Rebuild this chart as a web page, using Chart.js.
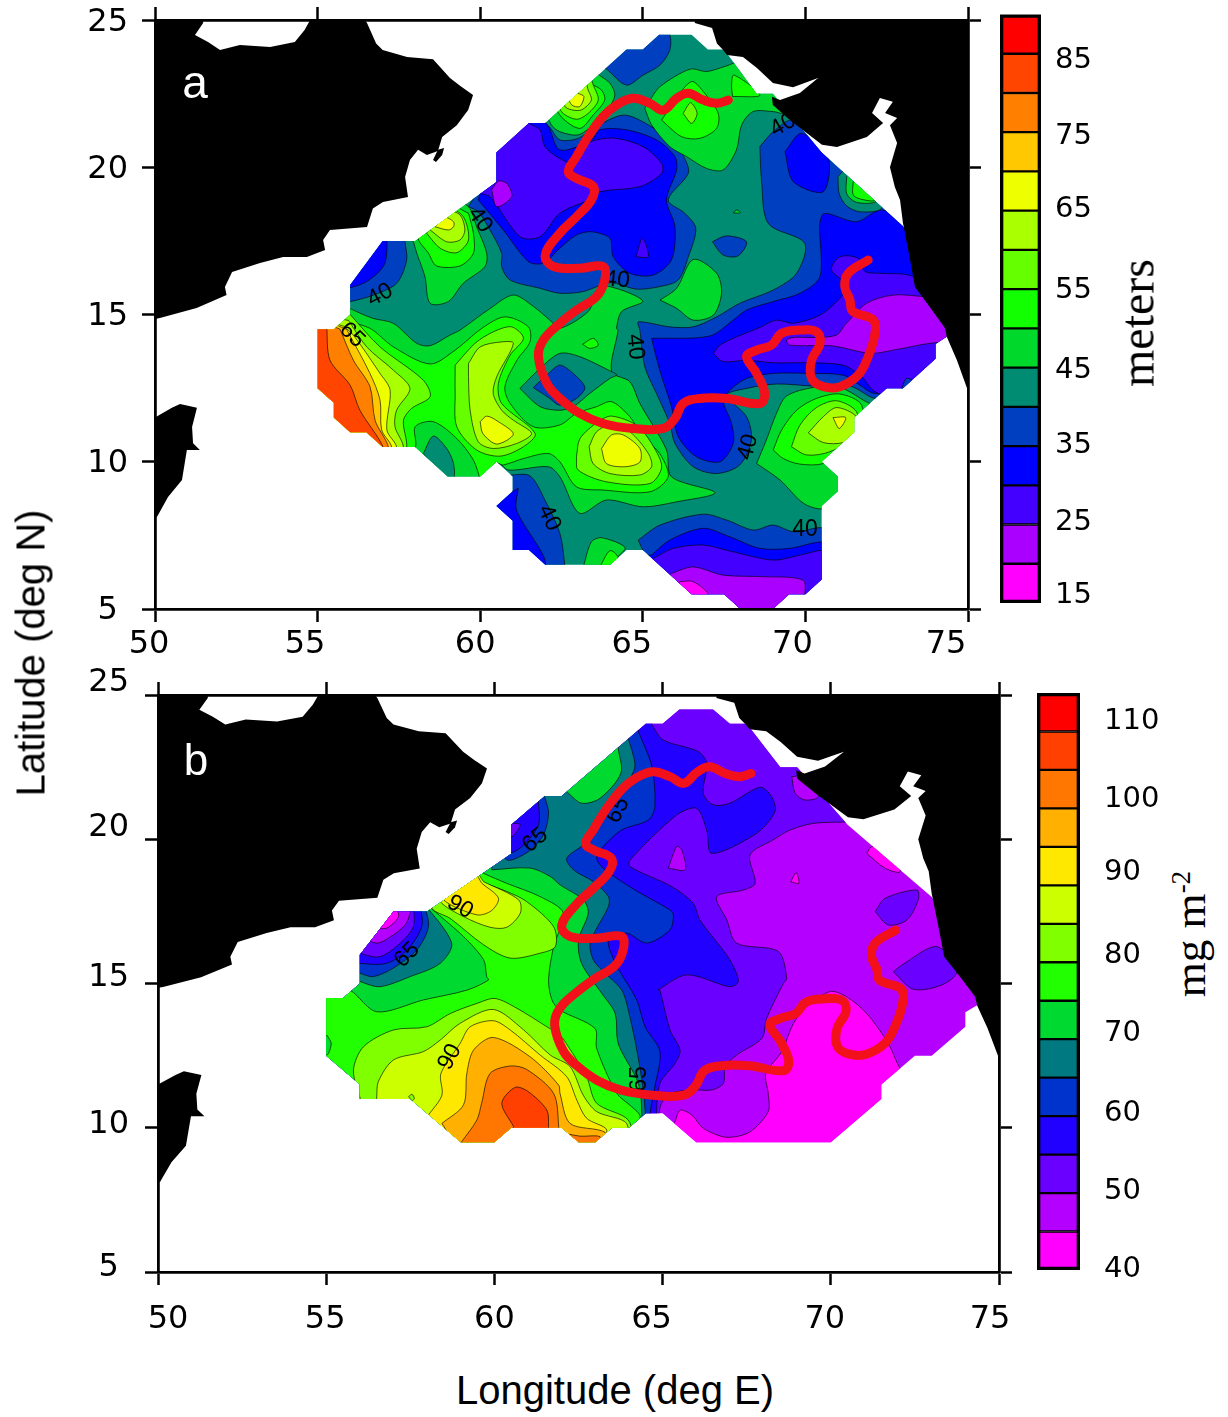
<!DOCTYPE html>
<html><head><meta charset="utf-8">
<script src="https://cdn.jsdelivr.net/npm/chart.js@4"></script>
<style>
html,body{margin:0;padding:0;background:#fff;width:1228px;height:1417px;overflow:hidden}
canvas{position:absolute}
.t{position:absolute;white-space:nowrap;color:#000;line-height:1}
.r{transform:translate(-50%,-50%) rotate(-90deg)}
.c{transform:translate(-50%,-50%)}
sup{font-size:60%;vertical-align:baseline;position:relative;top:-.55em}
</style></head><body>
<canvas id="mapA"></canvas><canvas id="mapB"></canvas><canvas id="barA"></canvas><canvas id="barB"></canvas>
<div class="t c" style="left:195px;top:82px;color:#fff;font:46px 'Liberation Sans'">a</div>
<div class="t c" style="left:196px;top:760px;color:#fff;font:44px 'Liberation Sans'">b</div>
<div class="t r" style="left:31px;top:653px;font:40px 'Liberation Sans'">Latitude (deg N)</div>
<div class="t c" style="left:615px;top:1390px;font:40px 'Liberation Sans'">Longitude (deg E)</div>
<div class="t r" style="left:1137px;top:323px;font:48px 'Liberation Serif'">meters</div>
<div class="t r" style="left:1190px;top:934px;font:45px 'Liberation Serif'">mg m<sup>-2</sup></div>
<script>
// ---- tick values ----
const lonTicks=[50,55,60,65,70,75];
const latTicks=[5,10,15,20,25];
const barTicksA=[15,25,35,45,55,65,75,85];
const barTicksB=[40,50,60,70,80,90,100,110];
// ---- colour scale bins (lower bound of each bin) ----
const binsA=[15,20,25,30,35,40,45,50,55,60,65,70,75,80,85];
const colorsA=['#ff00ff','#aa00ff','#4400ff','#0000ff','#0040c0','#008c72','#00d92b','#11ff00','#66ff00','#aaff00','#eeff00','#ffc800','#ff8000','#ff4500','#ff0000'];
const binsB=[40,45,50,55,60,65,70,75,80,85,90,95,100,105,110];
const colorsB=['#ff00ff','#b400ff','#6a00ff','#2200ff','#0033cc','#007a80','#00d930','#22ff00','#80ff00','#ccff00','#ffe800','#ffb000','#ff7700','#ff4000','#ff0000'];
// ---- coastlines, lon/lat ----
const landArabia=[[50,25],[51.48,25],[51.48,24.9],[51.23,24.49],[51.63,24.25],[52,23.98],[52.61,24.15],[53.54,24.08],[54.3,24.25],[54.6,24.66],[54.77,25],[56.45,25],[56.52,24.9],[56.8,24.2],[57,23.98],[57.75,23.74],[58.55,23.67],[59.07,23.03],[59.4,22.75],[59.78,22.45],[59.63,21.94],[59.28,21.43],[58.83,21.03],[58.7,20.55],[58.36,20.42],[58.09,20.59],[57.84,20.25],[57.69,19.67],[57.78,18.99],[57.01,18.82],[56.7,18.6],[56.52,17.97],[55.38,17.87],[55.17,17.53],[55.23,17.19],[54.67,16.95],[53.94,16.95],[53.23,16.75],[52.37,16.44],[52.15,15.93],[52.2,15.66],[51.28,15.22],[50.15,14.88],[50,14.85]];
const landMasirah=[[58.55,20.25],[58.7,20.59],[58.89,20.65],[58.83,20.42],[58.64,20.18]];
const landSomalia=[[50,11.5],[50.52,11.83],[50.77,11.96],[51.29,11.83],[51.14,11.18],[51.17,10.63],[51.38,10.4],[50.98,10.4],[50.83,9.38],[50.4,8.8],[50.06,8.12],[50,8.1]];
const landIndia=[[66.6,25],[66.6,24.9],[67.13,24.73],[67.28,24.2],[67.47,23.98],[67.59,23.81],[68.08,23.74],[68.51,23.37],[69,22.86],[69.62,22.72],[70.39,23.03],[69.83,22.52],[69.22,22.28],[68.97,22.39],[69,22.11],[69.53,21.6],[70.51,20.76],[70.97,20.69],[71.89,21.03],[72.39,21.5],[72.05,21.84],[72.29,22.35],[72.69,22.22],[72.45,21.84],[72.82,21.67],[72.6,21.43],[72.82,20.82],[72.6,20],[72.75,19.33],[72.91,18.89],[73,18.11],[73.22,16.85],[73.37,15.93],[73.83,15.25],[74.29,14.54],[74.35,14.24],[74.66,13.45],[74.97,12.5],[75,12.4],[75,25]];
// ---- front (red line), lon/lat ----
const frontLine=[[67.63,22.28],[67.27,22.17],[66.86,22.28],[66.4,22.51],[66.04,22.34],[65.63,21.94],[65.22,22.17],[64.7,22.34],[64.19,22.11],[63.78,21.72],[63.32,21.04],[62.96,20.36],[62.71,19.85],[62.96,19.62],[63.48,19.34],[63.42,18.89],[62.96,18.32],[62.45,17.76],[62,17.02],[62.25,16.63],[63.06,16.57],[63.78,16.63],[63.83,16.17],[63.58,15.61],[62.96,15.15],[62.45,14.7],[61.94,14.13],[61.79,13.57],[62.05,12.66],[62.45,12.15],[63.06,11.64],[63.78,11.3],[64.7,11.13],[65.63,11.13],[65.99,11.47],[66.24,11.98],[66.75,12.15],[67.58,12.15],[68.6,11.98],[68.75,12.32],[68.5,13],[68.19,13.57],[68.5,13.79],[68.96,13.96],[69.27,14.36],[69.83,14.47],[70.34,14.41],[70.45,14.02],[70.19,13.45],[70.19,12.83],[70.55,12.55],[71.06,12.55],[71.62,12.94],[71.93,13.57],[72.14,14.36],[72.09,14.81],[71.57,15.04],[71.42,15.15],[71.37,15.49],[71.21,15.95],[71.32,16.4],[71.93,16.85]];
// ---- data footprints ----
const regionA=[[65.5,24.5],[66.5,24.5],[67,24],[67.5,24],[68.5,22.5],[69,22.5],[70.5,20.5],[73,18],[74.5,15],[74.35,14.25],[74,14],[74,13.5],[73,12.5],[72.5,12.5],[71.5,11.5],[71.5,11],[70.5,10],[71,9.5],[71,9],[70.5,8.5],[70.5,6],[70,5.5],[69.5,5.5],[69,5],[68,5],[67.5,5.5],[66.5,5.5],[65,7],[64.5,7],[64,6.5],[62,6.5],[61.5,7],[61,7],[61,8],[60.5,8.5],[61,9],[61,9.5],[60.5,10],[60,9.5],[59,9.5],[58,10.5],[57,10.5],[56.5,11],[56,11],[55.5,11.5],[55.5,12],[55,12.5],[55,14.5],[55.5,14.5],[56,15],[56,16],[57,17.5],[58,17.5],[60.5,19.5],[60.5,20.5],[61.5,21.5],[62,21.5],[64.5,24],[65,24]];
const regionB=[[65.5,24.5],[66.5,24.5],[67,24],[67.5,24],[68.5,22.5],[69,22.5],[70.5,20.5],[73,18],[74.5,15],[74.35,14.25],[74,14],[74,13.5],[73,12.5],[72.5,12.5],[71.5,11.5],[71.5,11],[70,9.5],[66,9.5],[65,10.5],[64.5,10.5],[64,10],[63.5,10],[63,9.5],[62.5,9.5],[62,10],[60.5,10],[60,9.5],[59,9.5],[57.5,11],[56,11],[56,11.5],[55,12.5],[55,14.5],[55.5,14.5],[56,15],[56,16],[57,17.5],[58,17.5],[60.5,19.5],[60.5,20.5],[61.5,21.5],[62,21.5],[64.5,24],[65,24]];
// ---- panel a contours (mixed layer depth, m) ----
const aN35=[[59.64,18.66],[59.94,18.49],[60.3,17.87],[60.66,17.08],[60.66,16.63],[60.92,16.17],[61.84,15.89],[62.45,15.72],[63.17,15.78],[63.99,16.08],[64.81,15.86],[65.53,15.95],[66.09,16.17],[66.4,16.96],[66.63,17.93],[66.29,18.44],[65.78,18.89],[66.4,19.8],[66.26,20.36],[65.94,20.81],[65.17,21.44],[64.4,21.77],[63.47,21.32],[63.01,20.98],[62.45,20.93],[62.1,21.4],[61.3,22],[60.1,20.7],[60.1,19.6]];
const aE35=[[68.6,20.7],[69.01,21.21],[69.63,21.61],[70.65,20.7],[73.21,17.98],[74.5,17],[76,14],[76,12.5],[73.11,12.2],[72.14,12.15],[71.37,12.57],[70.24,12.57],[69.11,12.64],[68.19,12.49],[67.58,12.26],[68.19,11.53],[68.34,10.74],[67.98,9.89],[67.27,9.6],[66.55,9.83],[65.99,10.62],[65.83,11.3],[65.42,12.32],[65.06,13.23],[64.91,14.47],[64.86,14.75],[65.83,14.58],[66.55,14.58],[67.27,14.92],[67.98,15.38],[69.01,15.83],[69.73,16.4],[69.98,17.42],[68.86,18.09],[68.65,19.57]];
const aTop35=[[63.89,23.33],[64.5,22.79],[65.01,23.13],[65.53,23.47],[65.83,23.98],[65.83,24.49],[65.5,24.9],[64.5,24.4],[63.6,23.5]];
const aNW35=[[57.69,17.8],[57.69,17.47],[57.74,16.85],[57.43,16.06],[56.72,15.66],[56.02,15.44],[55.7,15.4],[55.7,16],[57,17.8]];
const aS35=[[64.86,7.34],[65.53,7.85],[66.86,8.22],[67.58,8.02],[68.4,7.68],[69.01,7.85],[69.63,7.62],[70.65,7.68],[71,5],[66,5],[65,7]];
const aSW35=[[60.87,9.55],[61.53,9.52],[61.99,8.7],[62.45,7.57],[62.6,6.49],[62.6,6.2],[60.3,6.2],[60.3,9.5]];
const aC35=[[67.14,17.47],[67.58,17.67],[68.19,17.47],[67.93,16.99],[67.47,17.02]];
const aN30=[[59.94,18.89],[60.71,17.87],[61.48,16.8],[61.94,16.74],[62.45,17.25],[62.96,17.7],[63.42,17.81],[63.99,17.59],[64.09,16.96],[64.6,16.4],[65.32,16.34],[65.88,16.85],[65.99,17.98],[65.73,18.89],[66.04,19.91],[65.99,20.36],[65.42,20.93],[64.5,21.27],[63.68,21.27],[63.42,20.93],[62.45,20.59],[62.05,21.47],[61.5,21.8],[60.1,20.7],[60.1,19.6]];
const aE30=[[65.27,14.19],[67.06,14.27],[67.78,14.81],[68.19,15.15],[69.01,15.44],[69.83,15.72],[70.45,16.29],[70.52,18.38],[71.57,18.15],[72.34,18.55],[73.3,18],[75,16],[76,14],[75,12.6],[72.14,12.32],[71.68,12.6],[71.16,12.94],[70.04,13],[69.01,13],[68.19,12.83],[67.68,12.43],[67.47,12.09],[67.73,11.3],[67.78,10.62],[67.37,10],[66.65,10.17],[66.09,10.85],[65.88,11.87],[65.52,13.11]];
const aNE30=[[69.37,20.53],[69.88,21.15],[70.7,20.36],[70.55,19.17],[69.63,19.51]];
const aNW30=[[56.51,16.97],[57.07,17.8],[57.07,16.74],[56.51,16.12],[55.8,15.9],[55.8,16.3]];
const aS30=[[65.27,6.83],[65.83,7.34],[66.86,7.74],[67.68,7.45],[68.6,7.06],[69.52,7.06],[70.55,7.28],[71,7],[71,5],[66,5],[65,6.8]];
const aSW30=[[61.17,9.1],[61.12,8.36],[62,6.49],[60.5,6.5],[60.3,8.5]];
const aN25=[[61.53,21.47],[61.84,21.27],[61.99,20.7],[62.45,20.3],[62.86,20.13],[63.12,20.7],[63.58,20.93],[64.19,20.98],[65.01,20.7],[65.58,20.13],[65.58,19.79],[64.91,19.34],[63.68,19.17],[63.32,18.89],[62.45,18.44],[61.84,17.64],[61.23,17.64],[60.3,19],[59.9,19.2],[60.2,20.8],[61.4,21.8]];
const aE25=[[67.17,13.68],[67.37,13.96],[67.88,14.24],[68.6,14.56],[69.11,14.81],[69.63,14.7],[70.45,14.98],[70.96,15.44],[71.32,15.95],[70.8,16.51],[71.06,16.96],[71.62,16.91],[71.83,16.46],[72.29,16.4],[73.31,16.29],[75,15],[75.5,13],[73.5,11.8],[72.14,12.38],[71.73,12.89],[71.16,13.28],[70.04,13.36],[69.01,13.36],[68.19,13.45],[67.47,13.4]];
const aS25=[[65.32,6.72],[65.94,7.06],[66.86,7.17],[67.78,6.94],[69.01,6.66],[69.83,6.83],[70.55,7],[71,6.9],[71,5],[66,5],[65.2,6.5]];
const aSpot25=[[64.79,16.96],[64.99,17.59],[65.17,16.96]];
const aN20=[[60.35,19.23],[60.56,19.53],[60.82,19.45],[60.97,19],[60.51,18.66]];
const aE20=[[71.21,14.64],[71.88,15.38],[72.7,15.66],[73.62,15.61],[75,15.5],[75,14],[74.03,14.05],[72.7,13.79],[71.98,13.68],[70.86,13.93],[69.52,13.96],[69.42,14.13],[69.63,14.22],[70.34,14.22],[70.96,14.3]];
const aS20=[[65.88,6.21],[66.55,6.43],[67.47,6.15],[68.6,6.1],[69.93,5.98],[69.98,5.4],[69.98,4.9],[66,4.9],[65.7,6]];
const aS15=[[66.14,5.93],[66.55,5.93],[67.01,5.47],[66.3,5.2],[66,5.6]];
const aSE35=[[72.96,12.49],[73.11,12.83],[73.32,12.72],[73.11,12.43]];
const aMain45=[[55.5,15.5],[56,15.2],[56.7,14.87],[57.33,14.7],[58.05,14.02],[58.46,13.94],[59.07,14.3],[59.38,14.47],[60.3,15.2],[61.02,15.66],[61.64,15.27],[62.15,14.8],[62.45,14.53],[63.32,15.1],[63.58,15.72],[63.88,15.97],[65,15.46],[64.35,15.1],[64.19,14.53],[64.24,14.47],[64.04,13.06],[64.6,12.72],[64.91,11.98],[65.73,10.4],[65.88,9.49],[67.22,8.95],[66.04,8.64],[65.01,8.47],[63.88,8.7],[63.06,8.25],[62.45,9.49],[62.1,9.83],[60.87,9.72],[60.5,10],[60,9.3],[59,9.3],[57,10.3],[55,12],[54.8,14.7]];
const aNW45=[[57.95,17.47],[58.05,17.08],[58.3,16.29],[58.46,15.38],[59.02,15.44],[59.48,16.06],[60.15,16.63],[60.2,17.08],[59.89,17.98],[59.64,18.66],[59,18.9],[57.6,17.8]];
const aN45=[[65.06,22],[65.27,21.44],[65.83,20.7],[66.35,20.36],[66.96,19.96],[67.47,19.91],[67.88,20.59],[68.04,21.44],[68.39,21.89],[69.01,21.89],[69.6,21.8],[69.6,23],[68.1,23.6],[67.52,23.42],[66.96,23.25],[66.45,23.33],[65.53,22.74],[65.22,22.28]];
const aNH45=[[63.66,23.13],[63.99,22.85],[64.14,22.45],[63.94,22],[63.47,21.44],[63.01,21.1],[62.45,21.21],[62.17,21.47],[62,22.2],[63,23.7]];
const aMid45=[[65.53,15.49],[66.04,15.89],[66.55,16.87],[67.27,16.4],[67.42,15.72],[67.17,14.98],[66.55,14.81],[66.04,15.21]];
const aEH45=[[68.5,9.94],[68.8,10.74],[69.11,11.64],[69.42,12.23],[70.24,12.52],[71.06,12.52],[71.78,12.09],[72.2,11.75],[71.7,9.49],[71.2,8.7],[70.5,8.4],[69.93,8.6],[69.22,9.38]];
const aS45=[[63.17,6.43],[63.42,7.28],[63.73,7.42],[64.45,7.09],[64.19,6.72],[64.04,6.43]];
const aSpot45=[[67.78,18.45],[67.9,18.55],[68,18.45]];
const aCoast40=[[71,19.68],[71.04,19.1],[71.27,18.69],[71.67,18.49],[72.34,18.6],[72.5,19.5],[71.5,20.2]];
const aCoast45=[[71.27,19.68],[71.27,19.1],[71.57,18.81],[72.19,18.85],[72.3,19.5],[71.5,20]];
const aCoast50=[[71.47,19.51],[71.47,19.06],[71.73,18.91],[72.14,18.89],[72,19.5]];
const aW50=[[55.8,14.8],[56.61,14.53],[57.33,13.9],[58.46,13.32],[59.23,13.79],[60.05,14.53],[60.76,14.92],[61.48,14.58],[61.53,14.07],[61.13,13.45],[60.76,12.55],[60.92,11.98],[61.63,11.19],[62.45,11.25],[62.96,11.64],[63.58,11.87],[64.04,12.04],[64.6,11.53],[65.01,10.85],[65.52,10.28],[65.78,9.49],[65.22,8.98],[63.78,9.04],[62.96,9.15],[62.45,10],[62.1,10.28],[61.33,10.11],[60.71,9.89],[60.51,9.94],[60,9.3],[59.99,9.43],[59.79,10.06],[59.28,10.79],[58.56,11.36],[58,11.19],[58,10.49],[57.5,10.3],[55,12],[54.8,14.7]];
const aNW50=[[59.64,18.44],[59.79,17.76],[59.79,17.08],[59.38,16.65],[58.66,16.65],[58.41,17.08],[58.1,17.64],[59,18.7]];
const aN50=[[65.58,21.6],[65.99,22.28],[66.5,22.91],[66.86,22.57],[67.32,21.83],[67.27,21.32],[66.75,20.98],[66.19,21.04]];
const aNE50=[[67.76,22.4],[67.73,22.79],[67.8,23.13],[68.6,22.45]];
const aNH50=[[63.37,22.85],[63.73,22.62],[63.83,22.28],[63.47,21.77],[63.06,21.32],[62.45,21.77],[62.3,22.4],[63.1,23.3]];
const aEH50=[[69.01,10.4],[69.27,11.08],[69.73,11.75],[70.34,12.15],[71.06,12.3],[71.73,11.92],[71.7,10.6],[70.55,9.94],[69.83,9.92],[69.32,10.11]];
const aS50=[[63.68,6.43],[63.99,6.98],[64.24,6.75],[64.04,6.43]];
const aSpot50=[[63.15,13.99],[63.48,14.19],[63.63,13.96],[63.37,13.85]];
const aPatch40=[[58.25,10.28],[58.56,10.87],[58.97,10.45],[59.18,9.94],[59.18,9.4],[58.92,9.4]];
const aBasin40=[[61.22,12.49],[61.84,13.17],[62.45,13.68],[63.06,13.57],[64.04,13.06],[64.2,12.95],[63.99,12.83],[63.37,12.32],[62.86,11.87],[62.45,11.75],[61.84,11.87]];
const aBasin35=[[61.63,12.52],[62.1,13],[62.45,13.28],[62.86,13],[63.22,12.52],[62.96,12.15],[62.45,11.92],[62.1,12.18]];
const aWest55=[[56,15],[56.92,13.9],[58.25,12.77],[58.46,12.21],[57.89,11.81],[57.64,11.4],[57.74,10.49],[57.5,10],[54.5,11],[54.5,15]];
const aWest60=[[55.95,14.8],[56.51,13.9],[57.33,13.11],[57.84,12.49],[57.43,11.75],[57.38,11.19],[57.64,10.49],[57.4,10],[54.5,11],[54.5,15]];
const aWest65=[[55.8,14.6],[56.1,14.3],[56.92,13],[57.23,12.43],[57.13,11.08],[57.43,10.49],[57.2,10],[54.5,11],[54.5,15]];
const aWest70=[[55.89,14.5],[56.61,13],[56.92,12.09],[56.97,11.08],[57.28,10.49],[57.1,10],[54.5,11],[54.5,15]];
const aWest75=[[55.69,14.5],[56.1,13.45],[56.61,12.55],[56.77,11.4],[57.18,10.49],[57,10.2],[54.5,11],[54.5,15]];
const aWest80=[[55.28,14.6],[55.38,13.45],[56,12.6],[56.3,11.75],[57.02,10.49],[56.9,10.2],[54.5,10.5],[54.5,15]];
const aHill55=[[59.23,13.28],[59.84,14.02],[60.4,14.41],[60.97,14.58],[61.33,14.19],[60.92,13.62],[60.56,12.66],[60.66,11.98],[61.69,10.96],[61.33,10.51],[60.61,10.19],[59.89,10.4],[59.28,11.19],[59.23,12.32]];
const aHill60=[[59.64,13.34],[60,13.9],[60.66,14.07],[61.02,14.02],[60.51,12.89],[60.4,12.32],[60.66,11.75],[61.02,11.41],[61.58,10.96],[61.12,10.62],[60.4,10.45],[59.94,10.68],[59.69,11.75],[59.64,12.89]];
const aHill65=[[60,11.36],[60.2,11.55],[60.56,11.36],[61.02,10.94],[60.51,10.6],[60.08,10.96]];
const aSC55=[[62.96,10.17],[63.07,10.79],[63.63,11.36],[64.04,11.55],[64.81,11.24],[65.27,10.62],[65.58,9.83],[65.22,9.26],[63.88,9.32],[63.01,9.72]];
const aSC60=[[63.35,10.51],[63.58,11.02],[64.04,11.25],[64.6,11.02],[65.17,10.28],[65.27,9.83],[64.91,9.55],[63.99,9.6],[63.47,9.94]];
const aSC65=[[63.73,10.45],[64.04,10.91],[64.4,10.91],[64.91,10.45],[64.91,9.99],[64.45,9.83],[63.88,9.94]];
const aEH55=[[69.57,10.51],[69.83,11.24],[70.34,11.84],[70.96,12.07],[71.57,11.7],[71.57,10.9],[70.75,10.34],[70.04,10.23]];
const aEH60=[[70.09,10.98],[70.55,11.53],[70.96,11.84],[71.57,11.53],[71.57,10.96],[71.16,10.65],[70.55,10.65]];
const aEH65=[[70.85,11.5],[71.24,11.5],[71.04,11.13]];
const aNW55=[[58.35,17.76],[58.77,17.25],[59.28,17.1],[59.64,17.53],[59.48,18.32],[59,18.6]];
const aNW60=[[58.46,17.87],[58.97,17.47],[59.38,17.53],[59.53,17.87],[59.38,18.38],[59,18.5]];
const aNW65=[[58.61,17.98],[59.02,17.87],[59.18,17.98],[59.18,18.15],[58.9,18.3]];
const aN55=[[66.24,21.83],[66.47,22.19],[66.67,21.83],[66.5,21.49]];
const aNH55=[[63.48,22.79],[63.63,22.28],[63.32,21.83],[62.96,21.63],[62.5,21.89],[62.4,22.5],[63.3,23.2]];
const aNH60=[[63.32,22.62],[63.42,22.28],[63.12,21.95],[62.81,21.95],[62.6,22.08],[62.7,22.7],[63.2,23]];
const aNH65=[[63.01,22.51],[63.19,22.4],[63.06,22.06],[62.81,22.12],[62.7,22.5]];
// ---- panel b contours (chlorophyll, mg m-2) ----
const bEast40=[[65.37,10.21],[65.52,10.61],[65.87,10.44],[66.21,9.98],[66.91,9.67],[67.6,9.86],[68.14,10.56],[68.14,11.19],[68.07,11.88],[68.54,12.64],[68.89,13.62],[69.28,14.2],[69.98,14.72],[70.47,14.54],[71.07,13.96],[71.71,12.92],[72.06,12.06],[72.5,11.5],[71,9],[65.9,9],[65.2,9.9]];
const bSpotA40=[[71.07,19.51],[71.22,19.75],[71.9,19.8],[72.06,18.88],[71.61,19]];
const bSpotB40=[[68.81,18.53],[68.97,18.84],[69.05,18.47]];
const bPatchA50=[[71.32,17.49],[71.61,17.95],[72.56,18.24],[72.6,17.9],[72.26,17.2],[71.71,17.03]];
const bPatchB50=[[71.86,15.41],[72.11,15.64],[73.15,16.28],[73.74,15.41],[73.3,14.95],[72.46,14.8]];
const bWest50=[[70.47,20.6],[69.48,20.55],[68.79,20.32],[68.29,19.98],[67.6,19.46],[67.75,18.47],[67.4,18.24],[66.61,18.01],[66.91,17.2],[67.2,16.4],[68.44,16.11],[68.69,15.18],[68.59,15],[68.09,13.79],[67.95,13.1],[67.2,12.52],[66.86,12.12],[66.81,11.54],[66.46,11.31],[65.91,11.31],[65.22,11.19],[64.97,10.85],[64.9,10.5],[64.9,9],[54,9],[54,25],[68,25],[70,23]];
const bSpotC45=[[65.17,19],[65.42,19.75],[65.57,19.63],[65.67,18.94]];
const bSpotD45=[[68.84,22.17],[68.94,21.6],[69.23,21.36],[69.63,21.48],[69.5,22.2]];
const bWest55=[[64.68,23.96],[65.02,23.44],[66.06,23.04],[66.31,22.63],[66.21,21.59],[66.51,21.19],[67,21.25],[67.9,21.8],[68.24,21.48],[68.34,20.96],[67.8,20.21],[66.46,19.51],[66.31,20.32],[66.01,21.07],[65.42,20.84],[64.03,19.28],[64.03,19.05],[65.27,18.36],[65.91,17.78],[66.11,17.2],[67,15.82],[67.25,15.07],[67,14.89],[65.72,15.3],[64.87,14.78],[64.92,14.77],[65.22,13.39],[65.52,12.69],[65.37,12.23],[64.92,11.54],[64.82,10.5],[64.8,9],[54,9],[54,25],[64.7,25]];
const bWest60=[[64.28,23.73],[64.68,22.52],[64.77,21.13],[64.58,20.67],[63.78,20.32],[63.24,19.75],[63.04,19.34],[63.29,18.94],[64.18,18.24],[65.22,17.55],[65.32,17.38],[65.22,16.86],[64.53,16.4],[63.93,16.74],[63.39,16.51],[63.59,15.7],[63.73,15.41],[64.23,14.43],[64.48,13.5],[64.92,12.64],[64.77,11.42],[64.63,10.5],[64.6,9],[54,9],[54,25],[64.2,25]];
const bWest65=[[63.98,23.5],[64.18,22.58],[64.03,22.11],[63.24,20.79],[62.69,19.86],[62.15,19.34],[62.35,18.94],[62.94,18.53],[63.39,18.01],[63.39,17.67],[62.99,16.8],[62.84,16.34],[62.94,15.82],[63.19,15.47],[63.78,14.78],[63.98,14.08],[64.28,12.4],[64.48,10.61],[64.4,9],[54,9],[54,25],[64,25]];
const bWest70=[[59.92,18.94],[61.06,19],[61.66,18.71],[61.95,18.42],[62.64,17.9],[62.79,17.44],[62.5,16.51],[62.59,15.7],[63.19,14.66],[63.59,13.96],[63.68,12.92],[64.28,11.54],[64.38,10.5],[64.3,9],[54,9],[54,16],[55.6,15.9],[57.7,17.9],[59.9,19.2]];
const bNorth70=[[63.68,23.15],[63.76,22.29],[63.14,21.42],[62.59,21.25],[62.15,21.65],[62,21.8],[63.7,23.5]];
const bWest75=[[59.67,18.82],[60.37,18.47],[61.36,18.01],[62.05,17.44],[61.76,16.28],[61.61,15.13],[61.71,14.43],[61.95,14.08],[62.99,13.44],[63.04,12.75],[63.64,11.19],[64.08,10.73],[64.33,10.38],[64,9],[54,9],[54,14],[55,15],[55.71,14.77],[56.5,14.02],[57.89,14.43],[59.18,14.77],[59.82,15.12],[59.77,15.24],[59.68,15.82],[59.08,16.63],[58.29,17.44],[58.14,17.61],[58.3,18],[59.7,19]];
const bEdge70=[[55.02,13.21],[55.15,12.92],[55.02,12.52],[54.8,12.9]];
const bNorth80=[[59.58,18.53],[60.37,18.19],[60.96,17.84],[61.76,16.97],[61.81,16.28],[61.36,16.05],[60.47,15.88],[59.68,16.34],[58.68,17.26],[58.14,17.61],[58.3,18.2],[59.4,19]];
const bNorth85=[[59.68,18.53],[60.72,17.9],[60.77,17.44],[60.37,16.95],[59.87,16.95],[59.08,17.32],[58.39,17.84],[58.5,18.2],[59.4,18.9]];
const bNorth90=[[59.63,18.47],[60.12,17.96],[59.92,17.53],[59.48,17.38],[58.49,17.9],[58.7,18.3],[59.4,18.8]];
const bSouth80=[[56.01,11.02],[55.81,12],[56.11,12.81],[57,13.39],[57.99,13.5],[58.69,13.96],[59.48,14.31],[60.02,14.48],[60.67,14.14],[61.56,13.5],[61.95,13.21],[62.2,12.81],[62.74,11.77],[63.04,10.85],[63.98,10.27],[64,9.5],[56,9.5]];
const bSouth85=[[56.5,11.02],[56.55,11.6],[57,12.35],[57.89,12.64],[58.39,13.04],[58.98,13.62],[59.97,14.1],[60.87,13.39],[61.66,12.52],[62.25,12.12],[62.64,11.13],[63.04,10.56],[63.93,10.15],[63.8,9.3],[56.3,9.3]];
const bSpot80=[[57.45,11.08],[57.55,11.16],[57.62,11.02],[57.55,10.94]];
const bSouth90=[[58.04,10.44],[58.44,11.13],[58.41,11.88],[58.98,12.92],[59.28,13.5],[59.97,13.71],[60.47,13.39],[61.36,12.52],[62.15,11.77],[62.45,10.96],[62.74,10.33],[63.34,9.92],[63,9.3],[58.5,9.3]];
const bSouth95=[[58.44,10.15],[59.08,10.79],[59.18,11.88],[59.38,12.69],[59.97,13.13],[61.06,12.46],[61.91,11.48],[61.95,11.19],[62.25,10.15],[63.29,9.84],[63.3,9.3],[59,9.3]];
const bSouth100=[[59.03,9.52],[59.48,10.27],[59.62,10.85],[59.87,11.88],[60.47,12.14],[60.96,12.02],[61.76,11.19],[61.91,10.04],[61.9,9.3],[59,9.3]];
const bEdge100=[[62.2,9.78],[62.54,9.71],[63.14,9.69],[63,9.4],[62.5,9.4]];
const bSouth105=[[60.57,10.04],[60.22,10.85],[60.62,11.4],[61.01,11.25],[61.56,10.61],[61.61,10.04],[61.6,9.8],[60.5,9.8]];
const bLobe65=[[57.9,17.8],[58.73,16.4],[58.39,15.7],[57.5,15.24],[56.6,14.89],[56,15.07],[55.8,15.2],[55.8,16.2],[57,17.8]];
const bLobe60=[[57.9,17.8],[58.04,16.97],[57.69,16.16],[56.99,15.53],[56.4,15.24],[56,15.36],[55.8,15.5],[55.8,16.2],[57,17.8]];
const bLobe55=[[57.79,17.8],[57.84,16.97],[57.4,16.16],[56.8,15.7],[56,15.7],[55.8,15.8],[55.8,16.2],[57,17.8]];
const bLobe50=[[57.59,17.8],[57.59,16.97],[57.2,16.4],[56.6,15.93],[56,16.05],[55.8,16.2],[57,17.8]];
const bLobe45=[[57.5,17.8],[57.5,17.49],[57.35,17.03],[56.85,16.57],[56.5,16.4],[56.2,16.6],[56.8,17.8]];
const bLobe40=[[57.05,17.7],[57.15,17.32],[56.8,16.92],[56.5,16.97],[56.9,17.7]];
const bNW60=[[61.51,21.42],[61.61,20.9],[61.46,20.15],[61.01,19.57],[60.37,19.28],[60.2,20],[60.2,20.7],[61.3,21.8]];
const bNW55=[[61.31,21.31],[61.31,20.5],[60.87,19.8],[60.52,19.54],[60.3,19.6],[60.3,20.6],[61,21.7]];
const bNW50=[[60.52,20.56],[60.77,20.5],[60.52,20.09],[60.3,20.3]];
// ---- contour labels: lon, lat, text, angle ----
const labelsA=[[69.31,21.43,'40',-30],[59.99,18.21,'40',55],[56.92,15.66,'40',-28],[56.06,14.3,'65',45],[64.21,16.17,'40',5],[64.76,13.9,'40',85],[68.24,10.5,'40',-75],[69.99,7.68,'40',0],[62.12,8.09,'40',65]];
const labelsB=[[61.21,19.97,'65',-40],[57.4,15.99,'65',-45],[58.98,17.65,'90',30],[58.68,12.45,'90',-62],[63.67,21.01,'65',-62],[64.33,11.69,'65',-90]];
// ---- painter's order: [band lower bound, polygon] ----
const layersA=[[35,aN35],[35,aE35],[35,aTop35],[35,aNW35],[35,aS35],[35,aSW35],[35,aC35],[30,aN30],[30,aE30],[30,aNE30],[30,aNW30],[30,aS30],[30,aSW30],[25,aN25],[25,aE25],[25,aS25],[25,aSpot25],[20,aN20],[20,aE20],[20,aS20],[15,aS15],[35,aSE35],
[45,aMain45],[45,aNW45],[45,aN45],[45,aNH45],[45,aMid45],[45,aEH45],[45,aS45],[45,aSpot45],[40,aCoast40],[45,aCoast45],[50,aCoast50],
[50,aW50],[50,aNW50],[50,aN50],[50,aNE50],[50,aNH50],[50,aEH50],[50,aS50],[50,aSpot50],[40,aPatch40],[40,aBasin40],[35,aBasin35],
[55,aWest55],[60,aWest60],[65,aWest65],[70,aWest70],[75,aWest75],[80,aWest80],[55,aHill55],[60,aHill60],[65,aHill65],[55,aSC55],[60,aSC60],[65,aSC65],[55,aEH55],[60,aEH60],[65,aEH65],[55,aNW55],[60,aNW60],[65,aNW65],[55,aN55],[55,aNH55],[60,aNH60],[65,aNH65]];
const layersB=[[40,bEast40],[40,bSpotA40],[40,bSpotB40],[50,bPatchA50],[50,bPatchB50],[50,bWest50],[45,bSpotC45],[45,bSpotD45],[55,bWest55],[60,bWest60],[65,bWest65],[70,bWest70],[70,bNorth70],[75,bWest75],[70,bEdge70],[80,bNorth80],[85,bNorth85],[90,bNorth90],[80,bSouth80],[85,bSouth85],[80,bSpot80],[90,bSouth90],[95,bSouth95],[100,bSouth100],[100,bEdge100],[105,bSouth105],[65,bLobe65],[60,bLobe60],[55,bLobe55],[50,bLobe50],[45,bLobe45],[40,bLobe40],[60,bNW60],[55,bNW55],[50,bNW50]];

const pts=a=>a.map(p=>({x:p[0],y:p[1]}));
const closed=a=>pts(a.concat([a[0]]));

const polygonPlugin=labels=>({id:'polygons',
  beforeDatasetDraw(chart,args){
    const ds=chart.data.datasets[args.index],ctx=chart.ctx;
    ctx.save();
    if(ds.isFront) drawLabels(chart,labels);
    if(ds.clipToRegion){
      const r=chart.getDatasetMeta(0).data;
      ctx.beginPath();r.forEach((p,i)=>i?ctx.lineTo(p.x,p.y):ctx.moveTo(p.x,p.y));ctx.closePath();ctx.clip();
    }
    if(ds.polyFill){
      const m=chart.getDatasetMeta(args.index),a=chart.chartArea;
      m.dataset.updateControlPoints(a,'x');
      ctx.save();ctx.beginPath();ctx.rect(a.left,a.top,a.width,a.height);ctx.clip();
      ctx.beginPath();m.dataset.path(ctx);ctx.closePath();ctx.fillStyle=ds.polyFill;ctx.fill();ctx.restore();
    }
  },
  afterDatasetDraw(chart){chart.ctx.restore();}
});
function drawLabels(chart,labels){
  const ctx=chart.ctx;
  labels.forEach(l=>{
    ctx.save();
    ctx.translate(chart.scales.x.getPixelForValue(l[0]),chart.scales.y.getPixelForValue(l[1]));
    ctx.rotate(l[3]*Math.PI/180);
    ctx.font="23px 'Liberation Sans'";ctx.fillStyle='#000';ctx.textAlign='center';ctx.textBaseline='middle';
    ctx.fillText(l[2],0,0);ctx.restore();
  });
}
const nudgePlugin=n=>({id:'nudge',beforeDraw(chart){
  Object.keys(n).forEach(id=>{
    const s=chart.scales[id];
    s.getLabelItems(chart.chartArea).forEach(it=>{
      if(it._n)return;it._n=1;
      const d=n[id][it.label]||0,t=it.options.translation;
      it.options.translation=id==='x'?[t[0]+d,t[1]+(n[id].dy||0)]:[t[0]+(n[id].dx||0),t[1]+d+(n[id].dy||0)];
    });
  });
}});

function place(id,l,t,w,h){const c=document.getElementById(id);c.style.left=l+'px';c.style.top=t+'px';c.width=w;c.height=h;c.style.width=w+'px';c.style.height=h+'px';return c;}

function mapChart(id,box,sizes,region,baseColor,layers,bins,colors,labels,nudges){
  const color=l=>colors[bins.indexOf(l)];
  const ds=[{data:closed(region),showLine:true,pointRadius:0,borderWidth:0,polyFill:baseColor,tension:0}];
  layers.forEach(l=>ds.push({data:closed(l[1]),showLine:true,pointRadius:0,borderWidth:.8,borderColor:'rgba(0,0,0,.8)',polyFill:color(l[0]),tension:.3,capBezierPoints:false,clipToRegion:true}));
  [landArabia,landMasirah,landSomalia,landIndia].forEach(l=>ds.push({data:closed(l),showLine:true,pointRadius:0,borderWidth:0,polyFill:'#000',tension:0}));
  ds.push({data:pts(frontLine),showLine:true,pointRadius:0,borderWidth:9,borderColor:'#f2101a',borderCapStyle:'round',borderJoinStyle:'round',tension:.4,capBezierPoints:false,isFront:true});
  ds.forEach((d,i)=>{d.order=-i;});
  const g={drawOnChartArea:false,tickLength:13,tickWidth:2.5,color:'#000',z:1};
  const b={color:'#000',width:2.8,z:1};
  const f={family:'DejaVu Sans',size:32};
  new Chart(place(id,...box),{type:'scatter',data:{datasets:ds},
    plugins:[polygonPlugin(labels),nudgePlugin(nudges)],
    options:{responsive:false,animation:false,events:[],layout:{padding:0},
      plugins:{legend:{display:false},tooltip:{enabled:false}},
      scales:{
        x:{type:'linear',position:'bottom',min:50,max:75,afterBuildTicks:s=>{s.ticks=lonTicks.map(v=>({value:v}))},grid:g,border:b,ticks:{autoSkip:false,maxRotation:0,color:'#000',font:f,padding:0,z:1},afterFit:s=>{s.height=sizes.bottom}},
        y:{type:'linear',position:'left',min:5,max:25,afterBuildTicks:s=>{s.ticks=latTicks.map(v=>({value:v}))},grid:g,border:b,ticks:{autoSkip:false,color:'#000',font:f,padding:0,crossAlign:'center',z:1},afterFit:s=>{s.width=sizes.left}},
        x2:{type:'linear',position:'top',min:50,max:75,afterBuildTicks:s=>{s.ticks=lonTicks.map(v=>({value:v}))},grid:g,border:b,ticks:{display:false},afterFit:s=>{s.height=sizes.top}},
        y2:{type:'linear',position:'right',min:5,max:25,afterBuildTicks:s=>{s.ticks=latTicks.map(v=>({value:v}))},grid:g,border:b,ticks:{display:false},afterFit:s=>{s.width=sizes.right}}
      }}});
}
function barChart(id,box,sizes,bins,colors,ticks,nudges){
  const ds=bins.map((b,i)=>({data:[[b,b+5]],backgroundColor:colors[i],borderColor:'#000',borderWidth:1.5,borderSkipped:false,barPercentage:1,categoryPercentage:1,grouped:false}));
  ds.push({data:[[bins[0],bins[bins.length-1]+5]],backgroundColor:'rgba(0,0,0,0)',borderColor:'#000',borderWidth:3,borderSkipped:false,barPercentage:1,categoryPercentage:1,grouped:false,order:-1});
  new Chart(place(id,...box),{type:'bar',data:{labels:[''],datasets:ds},
    plugins:[nudgePlugin(nudges)],
    options:{responsive:false,animation:false,events:[],layout:{padding:{left:sizes.left,top:sizes.top,bottom:sizes.bottom}},
      plugins:{legend:{display:false},tooltip:{enabled:false}},
      scales:{
        x:{display:false},
        y:{position:'right',min:bins[0],max:bins[bins.length-1]+5,afterBuildTicks:s=>{s.ticks=ticks.map(v=>({value:v}))},grid:{display:false,drawTicks:false},border:{display:false},ticks:{autoSkip:false,color:'#000',font:{family:'DejaVu Sans',size:29,lineHeight:1},padding:0,align:'center',crossAlign:'near'},afterFit:s=>{s.width=sizes.right}}
      }}});
}
mapChart('mapA',[0,0,990,665],{left:155,right:22,top:20,bottom:56},regionA,colorsA[binsA.indexOf(40)],layersA,binsA,colorsA,labelsA,
  {x:{dy:3,'50':-6,'55':-12.6,'60':-5,'65':-11,'70':-13,'75':-22},y:{dx:-14,dy:2,'25':1}});
mapChart('mapB',[0,665,1030,680],{left:158,right:31,top:30,bottom:73},regionB,colorsB[binsB.indexOf(45)],layersB,binsB,colorsB,labelsB,
  {x:{dy:15,'50':10,'55':-1,'60':0,'65':-11,'70':-6,'75':-9},y:{dx:-16,dy:2,'25':-14,'20':-14,'15':-8,'10':-5,'5':-6}});
barChart('barA',[990,0,120,620],{left:10,right:69,top:14,bottom:17},binsA,colorsA,barTicksA,{y:{dx:14,dy:2.5,'15':-10,'25':-5,'35':-3,'45':0,'55':-1,'65':-4,'75':2,'85':4}});
barChart('barB',[1030,670,130,620],{left:7,right:80,top:23,bottom:20},binsB,colorsB,barTicksB,{y:{dx:24,dy:2.5,'40':-3,'50':-4,'60':-5,'70':-8,'80':-9,'90':-15,'100':-11,'110':-12}});
</script></body></html>
